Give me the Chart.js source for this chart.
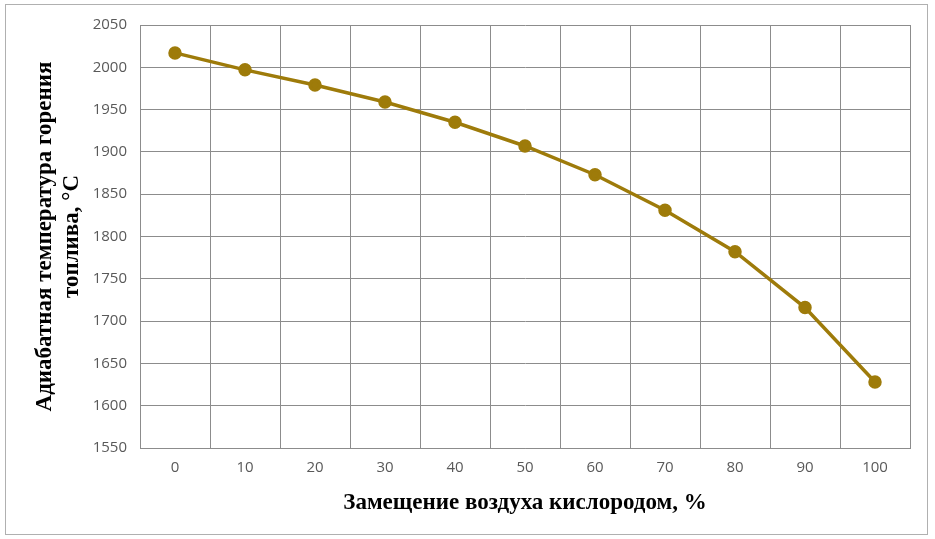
<!DOCTYPE html>
<html>
<head>
<meta charset="utf-8">
<script src="https://cdn.jsdelivr.net/npm/chart.js@4/dist/chart.umd.min.js"></script>
<style>
    body { margin: 0; background: #fff; }
    #wrap { position: relative; width: 935px; height: 539px; }
    #frame {
        position: absolute; left: 5px; top: 4px; width: 921px; height: 529px;
        border: 1px solid #b0b0b0; pointer-events: none;
    }
</style>
</head>
<body>
<div id="wrap">
    <canvas id="tempChart" width="935" height="539"></canvas>
    <div id="frame"></div>
</div>
<script>
// Oxygen replacement share, %
const categories = ['0', '10', '20', '30', '40', '50', '60', '70', '80', '90', '100'];
// Adiabatic flame temperature, °C
const temperatures = [2017, 1997, 1979, 1959, 1935, 1907, 1873, 1831, 1782, 1716, 1628];
const yMin = 1550;
const yMax = 2050;
const yStep = 50;

const lineColor = '#9E7B0A';
const gridColor = '#8c8c8c';
const tickColor = '#595959';

new Chart(document.getElementById('tempChart'), {
    type: 'line',
    data: {
        labels: categories,
        datasets: [{
            data: temperatures,
            borderColor: lineColor,
            backgroundColor: lineColor,
            borderWidth: 3.5,
            pointRadius: 5,
            pointBackgroundColor: lineColor,
            pointBorderColor: lineColor,
            tension: 0,
            fill: false
        }]
    },
    options: {
        responsive: false,
        animation: false,
        layout: { padding: { top: 25, right: 25, left: 8, bottom: 8 } },
        plugins: {
            legend: { display: false },
            tooltip: { enabled: false }
        },
        scales: {
            x: {
                offset: true,
                grid: { offset: true, color: gridColor, lineWidth: 1, drawTicks: false },
                border: { color: gridColor },
                ticks: { color: tickColor, font: { family: 'Open Sans', size: 15 }, padding: 11 },
                title: {
                    display: true,
                    text: 'Замещение воздуха кислородом, %',
                    color: '#000',
                    font: { family: 'Liberation Serif', size: 23, weight: 'bold' },
                    padding: { top: 4, bottom: 14 }
                },
                afterFit: (s) => { s.height = 539 - 448 - 8; }
            },
            y: {
                min: yMin,
                max: yMax,
                grid: { color: gridColor, lineWidth: 1, drawTicks: false },
                border: { color: gridColor },
                ticks: {
                    stepSize: yStep, color: tickColor, font: { family: 'Open Sans', size: 15 }, padding: 13,
                    callback: (v) => String(v)
                },
                title: {
                    display: true,
                    text: ['Адиабатная температура горения', 'топлива, °С'],
                    color: '#000',
                    font: { family: 'Liberation Serif', size: 23, weight: 'bold', lineHeight: 1.17 },
                    padding: { top: 24, bottom: 0 }
                },
                afterFit: (s) => { s.width = 140 - 8; }
            }
        }
    }
});
</script>
</body>
</html>
